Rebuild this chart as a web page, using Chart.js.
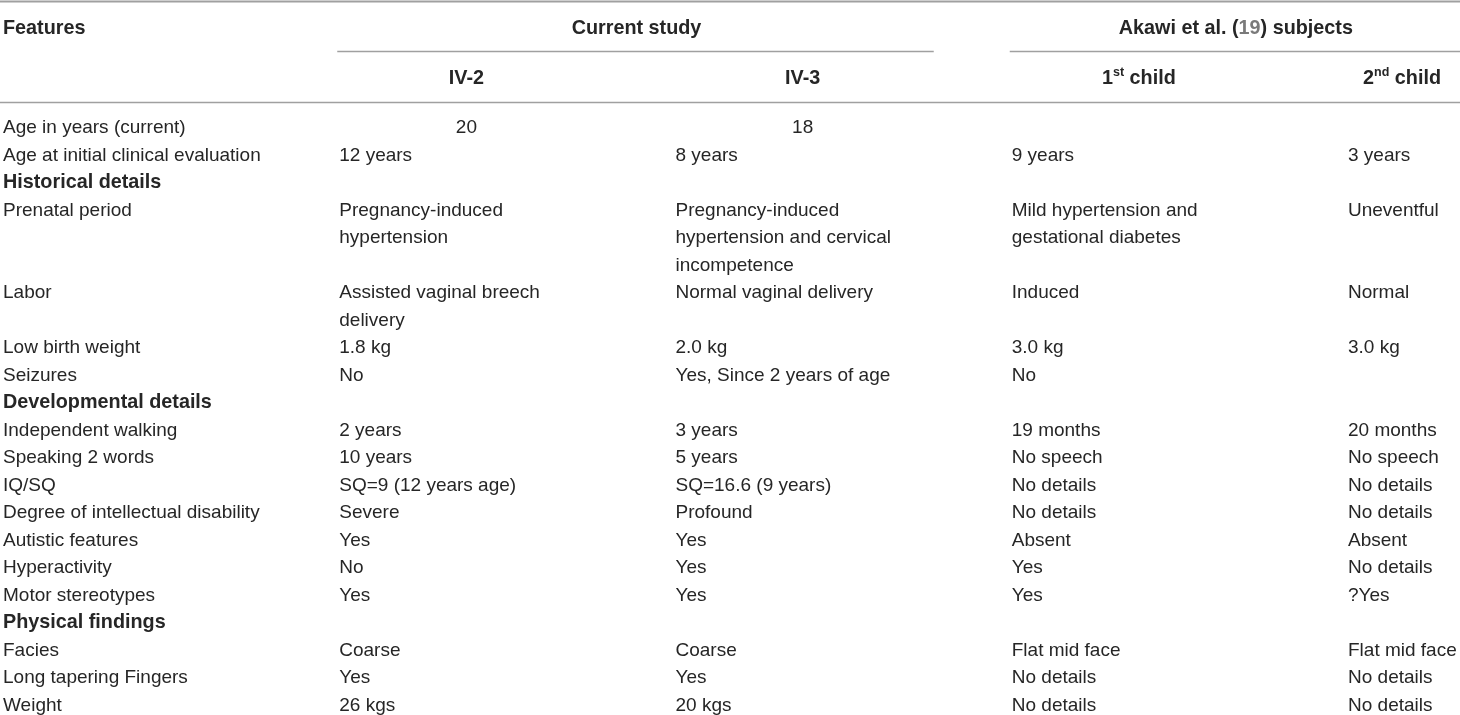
<!DOCTYPE html>
<html lang="en">
<head>
<meta charset="utf-8">
<title>Clinical features</title>
<script src="https://cdn.jsdelivr.net/npm/chart.js@4.4.1/dist/chart.umd.min.js"></script>
<style>
  html, body { margin: 0; padding: 0; background: #fff; }
  #wrap { position: relative; width: 1460px; height: 715px; }
</style>
</head>
<body>
<div id="wrap"><canvas id="tabela"></canvas></div>
<script>
// ---------------------------------------------------------------
// DATA
// ---------------------------------------------------------------
const columnHeaders = ['Features', 'IV-2', 'IV-3', '1st child', '2nd child'];
const groupHeaders = ['Current study', 'Akawi et al. (19) subjects'];
const groupSpans = [[1, 2], [3, 4]];

const features = [
  'Age in years (current)',
  'Age at initial clinical evaluation',
  'Historical details',
  'Prenatal period',
  'Labor',
  'Low birth weight',
  'Seizures',
  'Developmental details',
  'Independent walking',
  'Speaking 2 words',
  'IQ/SQ',
  'Degree of intellectual disability',
  'Autistic features',
  'Hyperactivity',
  'Motor stereotypes',
  'Physical findings',
  'Facies',
  'Long tapering Fingers',
  'Weight',
];
const sectionRows = [2, 7, 15];   // bold sub-headings
const centeredRows = [0];         // values centred under the column header

const ivTwo = [
  '20', '12 years', '',
  'Pregnancy-induced\nhypertension',
  'Assisted vaginal breech\ndelivery',
  '1.8 kg', 'No', '',
  '2 years', '10 years', 'SQ=9 (12 years age)', 'Severe', 'Yes', 'No', 'Yes', '',
  'Coarse', 'Yes', '26 kgs',
];
const ivThree = [
  '18', '8 years', '',
  'Pregnancy-induced\nhypertension and cervical\nincompetence',
  'Normal vaginal delivery',
  '2.0 kg', 'Yes, Since 2 years of age', '',
  '3 years', '5 years', 'SQ=16.6 (9 years)', 'Profound', 'Yes', 'Yes', 'Yes', '',
  'Coarse', 'Yes', '20 kgs',
];
const childOne = [
  '', '9 years', '',
  'Mild hypertension and\ngestational diabetes',
  'Induced',
  '3.0 kg', 'No', '',
  '19 months', 'No speech', 'No details', 'No details', 'Absent', 'Yes', 'Yes', '',
  'Flat mid face', 'No details', 'No details',
];
const childTwo = [
  '', '3 years', '',
  'Uneventful',
  'Normal',
  '3.0 kg', '', '',
  '20 months', 'No speech', 'No details', 'No details', 'Absent', 'No details', '?Yes', '',
  'Flat mid face', 'No details', 'No details',
];

const columns = [features, ivTwo, ivThree, childOne, childTwo];

// linha inicial de cada registro (registros com várias linhas empurram os seguintes)
const lineCount = features.map((_, r) =>
  Math.max(...columns.map((col) => col[r].split('\n').length)));
const rowStart = [];
lineCount.reduce((acc, n, r) => { rowStart[r] = acc; return acc + n; }, 0);

// ---------------------------------------------------------------
// ESTILO
// ---------------------------------------------------------------
const FAMILY = '"Liberation Sans", Arial, Helvetica, sans-serif';
const FONT = `19px ${FAMILY}`;
const FONT_BOLD = `bold 19.8px ${FAMILY}`;
const FONT_SUP = `bold 12.5px ${FAMILY}`;
const TEXT = '#262626';
const REF_GREY = '#7a7a7a';
const RULE = '#a0a0a0';
const GUTTER = 78;

// posições verticais do cabeçalho, em unidades de linha do eixo y
const HEADER_TOP = -3.6;
const HEADER_SUB = -1.8;
const RULE_TOP = -4.6;
const RULE_GROUP = -2.8;
const RULE_HEAD = -0.95;

// texto com sobrescrito (1st, 2nd) e referência em cinza ((19))
function segmentos(texto) {
  const sup = texto.match(/^(\d+)(st|nd|rd|th)(.*)$/);
  if (sup) return [{ t: sup[1] }, { t: sup[2], sup: true }, { t: sup[3] }];
  return texto.split(/(\(\d+\))/).filter(Boolean).flatMap((p) => {
    const m = p.match(/^\((\d+)\)$/);
    return m ? [{ t: '(' }, { t: m[1], grey: true }, { t: ')' }] : [{ t: p }];
  });
}

function desenharRico(ctx, texto, x, y, align) {
  const segs = segmentos(texto);
  const largura = segs.reduce((w, s) => {
    ctx.font = s.sup ? FONT_SUP : FONT_BOLD;
    return w + ctx.measureText(s.t).width;
  }, 0);
  let cx = align === 'center' ? x - largura / 2 : x;
  ctx.textAlign = 'left';
  segs.forEach((s) => {
    ctx.font = s.sup ? FONT_SUP : FONT_BOLD;
    ctx.fillStyle = s.grey ? REF_GREY : TEXT;
    ctx.fillText(s.t, cx, s.sup ? y - 6 : y);
    cx += ctx.measureText(s.t).width;
  });
}

// ---------------------------------------------------------------
// PLUGIN — desenha as células nas posições dos pontos
// ---------------------------------------------------------------
const pluginTabela = {
  id: 'tabela',
  afterDatasetsDraw(chart) {
    const { ctx } = chart;
    const sx = chart.scales.x;
    const sy = chart.scales.y;
    const passo = sy.getPixelForValue(1) - sy.getPixelForValue(0);
    const ultima = columnHeaders.length - 1;
    const borda = (c) => (c < ultima ? sx.getPixelForValue(c + 1) - GUTTER : chart.width);
    const centro = (c) => (sx.getPixelForValue(c) + borda(c)) / 2;

    ctx.save();
    ctx.textBaseline = 'middle';

    // réguas horizontais
    const regua = (v, x0, x1, w) => {
      const py = Math.round(sy.getPixelForValue(v)) + 0.5;
      ctx.beginPath();
      ctx.lineWidth = w;
      ctx.strokeStyle = RULE;
      ctx.moveTo(x0, py);
      ctx.lineTo(x1, py);
      ctx.stroke();
    };
    regua(RULE_TOP, 0, chart.width, 2);
    regua(RULE_HEAD, 0, chart.width, 1.3);
    groupSpans.forEach(([a, b]) => regua(RULE_GROUP, sx.getPixelForValue(a) - 2, borda(b), 1.3));

    // cabeçalho
    desenharRico(ctx, columnHeaders[0], sx.getPixelForValue(0), sy.getPixelForValue(HEADER_TOP), 'left');
    groupHeaders.forEach((g, i) => {
      const [a, b] = groupSpans[i];
      desenharRico(ctx, g, (sx.getPixelForValue(a) + borda(b)) / 2, sy.getPixelForValue(HEADER_TOP), 'center');
    });
    columnHeaders.slice(1).forEach((h, i) => {
      desenharRico(ctx, h, centro(i + 1) - 2, sy.getPixelForValue(HEADER_SUB), 'center');
    });

    // corpo
    chart.data.datasets.forEach((ds, c) => {
      const meta = chart.getDatasetMeta(c);
      meta.data.forEach((pt, r) => {
        const texto = ds.texts[r];
        if (!texto) return;
        const negrito = c === 0 && sectionRows.includes(r);
        const centrado = c > 0 && centeredRows.includes(r);
        ctx.font = negrito ? FONT_BOLD : FONT;
        ctx.fillStyle = TEXT;
        ctx.textAlign = centrado ? 'center' : 'left';
        const px = centrado ? centro(c) - 2 : pt.x;
        texto.split('\n').forEach((linha, k) => ctx.fillText(linha, px, pt.y + k * passo));
      });
    });
    ctx.restore();
  },
};

// ---------------------------------------------------------------
// INIT
// ---------------------------------------------------------------
document.addEventListener('DOMContentLoaded', () => {
  new Chart(document.getElementById('tabela'), {
    type: 'scatter',
    data: {
      datasets: columns.map((col, c) => ({
        label: columnHeaders[c],
        data: col.map((_, r) => ({ x: c, y: rowStart[r] })),
        texts: col,
        pointRadius: 0,
        pointHoverRadius: 0,
      })),
    },
    options: {
      responsive: true,
      maintainAspectRatio: false,
      animation: false,
      events: [],
      layout: { padding: { left: 3, right: 112, top: 0, bottom: 0 } },
      plugins: { legend: { display: false }, tooltip: { enabled: false } },
      scales: {
        x: { type: 'linear', min: 0, max: 4, display: false },
        y: { type: 'linear', min: -4.65, max: 21.35, reverse: true, display: false },
      },
    },
    plugins: [pluginTabela],
  });
});
</script>
</body>
</html>
